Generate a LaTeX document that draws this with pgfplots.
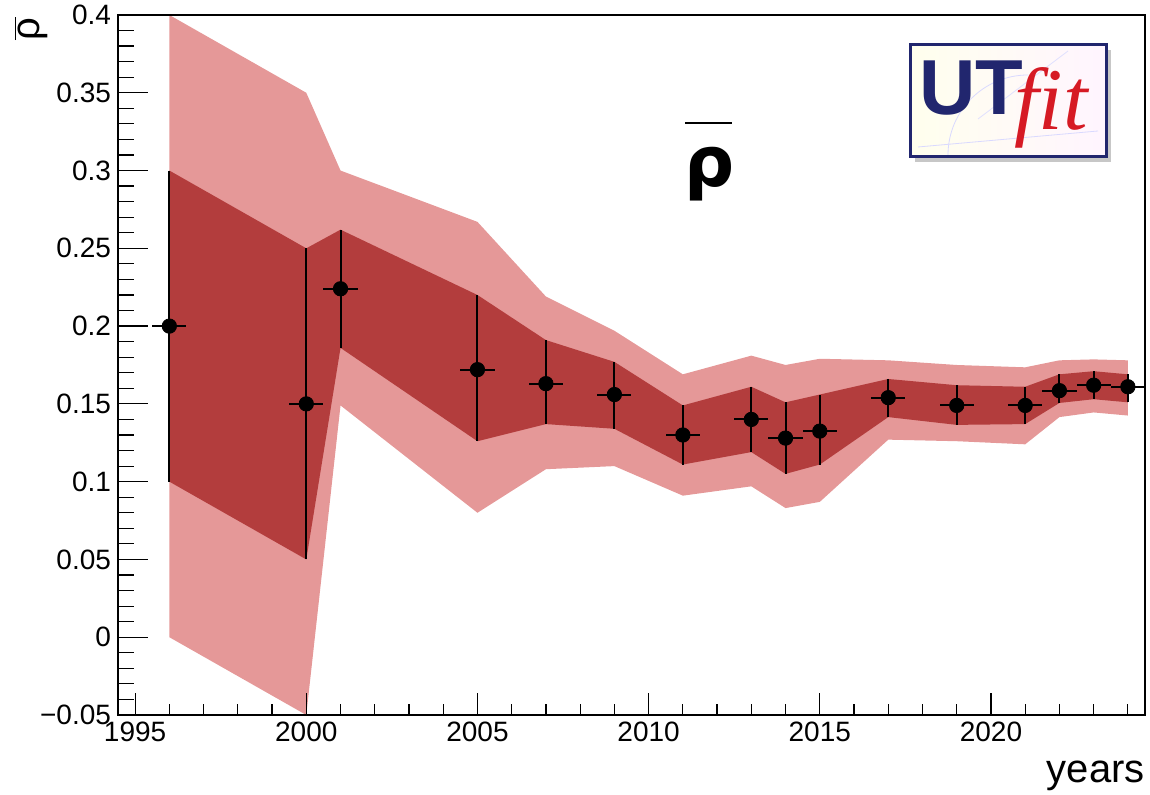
\documentclass[border=0pt]{standalone}
\usepackage{fontspec}
\setmainfont{Liberation Sans}
\newfontfamily\djv{DejaVu Sans}
\newfontfamily\serifit{Liberation Serif}
\usepackage{pgfplots}
\usepackage{pgfplotstable}
\usepgfplotslibrary{fillbetween}
\pgfplotsset{compat=1.18}

\definecolor{bandlight}{RGB}{229,152,152}
\definecolor{banddark}{RGB}{179,61,61}
\definecolor{utnavy}{RGB}{33,38,110}
\definecolor{utred}{RGB}{214,26,36}

\pgfplotstableread{
year y      dlo    dhi    llo    lhi
1996 0.200  0.100  0.300  0.000  0.400
2000 0.150  0.050  0.250  -0.050 0.350
2001 0.224  0.186  0.262  0.149  0.300
2005 0.172  0.126  0.220  0.080  0.267
2007 0.163  0.137  0.191  0.108  0.219
2009 0.156  0.134  0.177  0.110  0.197
2011 0.130  0.111  0.149  0.091  0.169
2013 0.140  0.119  0.161  0.097  0.181
2014 0.128  0.105  0.151  0.083  0.175
2015 0.1325 0.111  0.156  0.087  0.179
2017 0.154  0.1415 0.166  0.127  0.178
2019 0.149  0.1365 0.162  0.126  0.175
2021 0.149  0.137  0.161  0.124  0.1735
2022 0.1585 0.1506 0.169  0.1415 0.178
2023 0.162  0.153  0.171  0.1445 0.1786
2024 0.161  0.151  0.169  0.1425 0.178
}\rhodata

\begin{document}
\begin{tikzpicture}
\begin{axis}[
  name=main,
  scale only axis,
  width=513.5pt, height=350pt,
  xmin=1994.5, xmax=2024.5,
  ymin=-0.05, ymax=0.4,
  axis on top,
  tick pos=left,
  tick align=inside,
  xtick={1995,2000,2005,2010,2015,2020},
  xticklabels={1995,2000,2005,2010,2015,2020},
  minor xtick={1996,1997,1998,1999,2001,2002,2003,2004,2006,2007,2008,2009,2011,2012,2013,2014,2016,2017,2018,2019,2021,2022,2023,2024},
  ytick={-0.05,0,0.05,0.1,0.15,0.2,0.25,0.3,0.35,0.4},
  yticklabels={−0.05,0,0.05,0.1,0.15,0.2,0.25,0.3,0.35,0.4},
  minor y tick num=4,
  major tick length=15pt,
  minor tick length=8pt,
  xtick style={/pgfplots/major tick length=11pt, /pgfplots/minor tick length=5.5pt},
  tick style={black, line width=0.6pt},
  axis line style={line width=0.8pt},
  tick label style={font=\fontsize{14}{16}\selectfont},
  /pgf/number format/assume math mode=true,
]
\addplot[name path=lhi, draw=none, forget plot] table[x=year,y=lhi]{\rhodata};
\addplot[name path=llo, draw=none, forget plot] table[x=year,y=llo]{\rhodata};
\addplot[fill=bandlight, draw=none] fill between[of=lhi and llo];
\addplot[name path=dhi, draw=none, forget plot] table[x=year,y=dhi]{\rhodata};
\addplot[name path=dlo, draw=none, forget plot] table[x=year,y=dlo]{\rhodata};
\addplot[fill=banddark, draw=none] fill between[of=dhi and dlo];
\addplot[black, only marks, mark=*, mark size=3.6pt,
  error bars/.cd, y dir=both, y explicit, x dir=both, x fixed=0.5,
  error mark=none, error bar style={line width=1pt, black}]
  table[x=year, y=y,
        y error plus expr=\thisrow{dhi}-\thisrow{y},
        y error minus expr=\thisrow{y}-\thisrow{dlo}]{\rhodata};
\end{axis}

\begin{scope}[shift={(main.north west)}]
  % logo
  \fill[black!22] (398.5pt,-17.5pt) rectangle (496.5pt,-73.5pt);
  \shade[left color=yellow!7, right color=magenta!4] (396pt,-15pt) rectangle (494pt,-71pt);
  \draw[blue!15, line width=0.4pt] (400pt,-66pt) -- (490pt,-58pt);
  \draw[blue!15, line width=0.4pt] (415pt,-70pt) arc[start angle=180, end angle=90, radius=40pt];
  \draw[blue!12, line width=0.4pt] (430pt,-52pt) -- (475pt,-18pt);
  \draw[line width=1.5pt, utnavy] (396pt,-15pt) rectangle (494pt,-71pt);
  \node[anchor=base west, inner sep=0, text=utnavy, font=\fontsize{39}{42}\selectfont\bfseries] at (400.5pt,-50pt) {UT};
  \node[anchor=base west, inner sep=0, text=utred, font=\serifit\itshape\fontsize{44}{48}\selectfont] at (448pt,-57.5pt) {fit};
  % title
  \node[anchor=base, inner sep=0, font=\djv\bfseries\fontsize{35}{40}\selectfont] at (296pt,-86pt) {ρ};
  \draw[line width=1pt] (283.5pt,-54pt) -- (307pt,-54pt);
  % labels
  \node[anchor=base east, inner sep=0, font=\fontsize{20}{24}\selectfont] at (513.5pt,-384pt) {years};
  \node[rotate=90, anchor=east, inner sep=0, font=\fontsize{20}{24}\selectfont] at (-43.5pt,-1pt) {$\overline{\mbox{ρ}}$};
\end{scope}

\path (main.south west) ++(-59pt,-40pt) coordinate (BL);
\path (main.north east) ++(2.5pt,7.5pt) coordinate (TR);
\pgfresetboundingbox
\useasboundingbox (BL) rectangle (TR);
\end{tikzpicture}
\end{document}
